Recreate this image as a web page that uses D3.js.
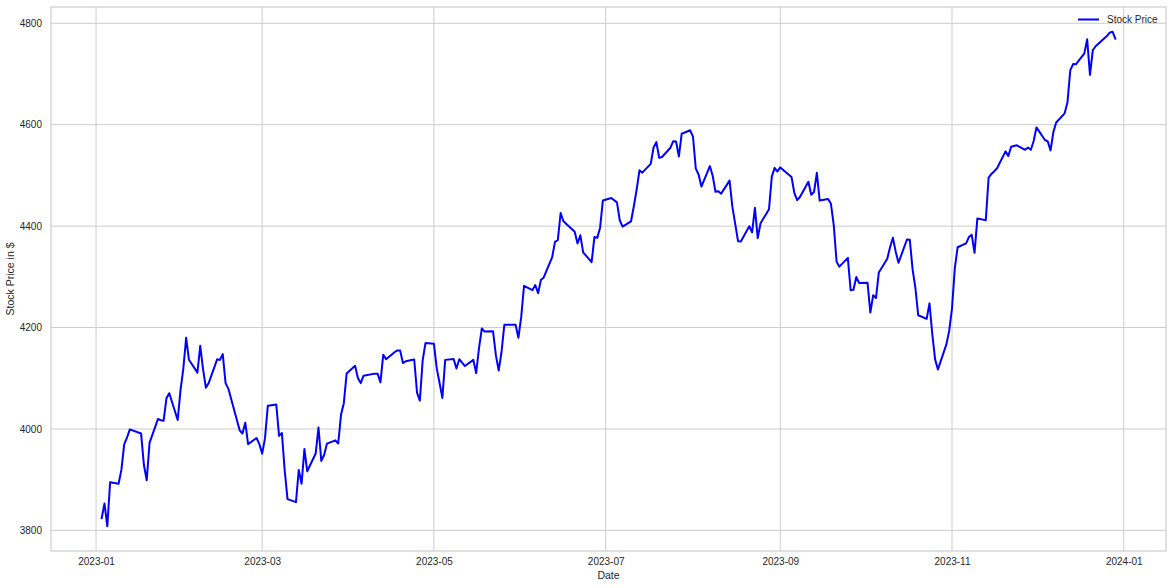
<!DOCTYPE html>
<html><head><meta charset="utf-8">
<script src="https://cdn.jsdelivr.net/npm/d3@7"></script>
<style>html,body{margin:0;padding:0;background:#fff;}svg{display:block;font-family:"Liberation Sans",Arial,sans-serif;}</style>
</head><body><svg id="c" width="1173" height="588"></svg>
<script>
const dates = ["2023-01-03","2023-01-04","2023-01-05","2023-01-06","2023-01-09","2023-01-10","2023-01-11","2023-01-12","2023-01-13","2023-01-17","2023-01-18","2023-01-19","2023-01-20","2023-01-23","2023-01-24","2023-01-25","2023-01-26","2023-01-27","2023-01-30","2023-01-31",
"2023-02-01","2023-02-02","2023-02-03","2023-02-06","2023-02-07","2023-02-08","2023-02-09","2023-02-10","2023-02-13","2023-02-14","2023-02-15","2023-02-16","2023-02-17","2023-02-21","2023-02-22","2023-02-23","2023-02-24","2023-02-27","2023-02-28",
"2023-03-01","2023-03-02","2023-03-03","2023-03-06","2023-03-07","2023-03-08","2023-03-09","2023-03-10","2023-03-13","2023-03-14","2023-03-15","2023-03-16","2023-03-17","2023-03-20","2023-03-21","2023-03-22","2023-03-23","2023-03-24","2023-03-27","2023-03-28","2023-03-29","2023-03-30","2023-03-31",
"2023-04-03","2023-04-04","2023-04-05","2023-04-06","2023-04-10","2023-04-11","2023-04-12","2023-04-13","2023-04-14","2023-04-17","2023-04-18","2023-04-19","2023-04-20","2023-04-21","2023-04-24","2023-04-25","2023-04-26","2023-04-27","2023-04-28",
"2023-05-01","2023-05-02","2023-05-03","2023-05-04","2023-05-05","2023-05-08","2023-05-09","2023-05-10","2023-05-11","2023-05-12","2023-05-15","2023-05-16","2023-05-17","2023-05-18","2023-05-19","2023-05-22","2023-05-23","2023-05-24","2023-05-25","2023-05-26","2023-05-30","2023-05-31",
"2023-06-01","2023-06-02","2023-06-05","2023-06-06","2023-06-07","2023-06-08","2023-06-09","2023-06-12","2023-06-13","2023-06-14","2023-06-15","2023-06-16","2023-06-20","2023-06-21","2023-06-22","2023-06-23","2023-06-26","2023-06-27","2023-06-28","2023-06-29","2023-06-30",
"2023-07-03","2023-07-05","2023-07-06","2023-07-07","2023-07-10","2023-07-11","2023-07-12","2023-07-13","2023-07-14","2023-07-17","2023-07-18","2023-07-19","2023-07-20","2023-07-21","2023-07-24","2023-07-25","2023-07-26","2023-07-27","2023-07-28","2023-07-31",
"2023-08-01","2023-08-02","2023-08-03","2023-08-04","2023-08-07","2023-08-08","2023-08-09","2023-08-10","2023-08-11","2023-08-14","2023-08-15","2023-08-16","2023-08-17","2023-08-18","2023-08-21","2023-08-22","2023-08-23","2023-08-24","2023-08-25","2023-08-28","2023-08-29","2023-08-30","2023-08-31",
"2023-09-01","2023-09-05","2023-09-06","2023-09-07","2023-09-08","2023-09-11","2023-09-12","2023-09-13","2023-09-14","2023-09-15","2023-09-18","2023-09-19","2023-09-20","2023-09-21","2023-09-22","2023-09-25","2023-09-26","2023-09-27","2023-09-28","2023-09-29",
"2023-10-02","2023-10-03","2023-10-04","2023-10-05","2023-10-06","2023-10-09","2023-10-10","2023-10-11","2023-10-12","2023-10-13","2023-10-16","2023-10-17","2023-10-18","2023-10-19","2023-10-20","2023-10-23","2023-10-24","2023-10-25","2023-10-26","2023-10-27","2023-10-30","2023-10-31",
"2023-11-01","2023-11-02","2023-11-03","2023-11-06","2023-11-07","2023-11-08","2023-11-09","2023-11-10","2023-11-13","2023-11-14","2023-11-15","2023-11-16","2023-11-17","2023-11-20","2023-11-21","2023-11-22","2023-11-24","2023-11-27","2023-11-28","2023-11-29","2023-11-30",
"2023-12-01","2023-12-04","2023-12-05","2023-12-06","2023-12-07","2023-12-08","2023-12-11","2023-12-12","2023-12-13","2023-12-14","2023-12-15","2023-12-18","2023-12-19","2023-12-20","2023-12-21","2023-12-22","2023-12-26","2023-12-27","2023-12-28","2023-12-29"];
const prices = [3824.14,3852.97,3808.10,3895.08,3892.09,3919.25,3969.61,3983.17,3999.09,3990.97,3928.86,3898.85,3972.61,4019.81,4016.95,4016.22,4060.43,4070.56,4017.77,4076.60,
4119.21,4179.76,4136.48,4111.08,4164.00,4117.86,4081.50,4090.46,4137.29,4136.13,4147.60,4090.41,4079.09,3997.34,3991.05,4012.32,3970.04,3982.24,3970.15,
3951.39,3981.35,4045.64,4048.42,3986.37,3992.01,3918.32,3861.59,3855.76,3919.29,3891.93,3960.28,3916.64,3951.57,4002.87,3936.97,3948.72,3970.99,3977.53,3971.27,4027.81,4050.83,4109.31,
4124.51,4100.60,4090.38,4105.02,4109.11,4108.94,4091.95,4146.22,4137.64,4151.32,4154.87,4154.52,4129.79,4133.52,4137.04,4071.63,4055.99,4135.35,4169.48,
4167.87,4119.58,4090.75,4061.22,4136.25,4138.12,4119.17,4137.64,4130.62,4124.08,4136.28,4109.90,4158.77,4198.05,4191.98,4192.63,4145.58,4115.24,4151.28,4205.45,4205.52,4179.83,
4221.02,4282.37,4273.79,4283.85,4267.52,4293.93,4298.86,4338.93,4369.01,4372.59,4425.84,4409.59,4388.71,4365.69,4381.89,4348.33,4328.82,4378.41,4376.86,4396.44,4450.38,
4455.59,4446.82,4411.59,4398.95,4409.53,4439.26,4472.16,4510.04,4505.42,4522.79,4554.98,4565.72,4534.87,4536.34,4554.64,4567.46,4566.75,4537.41,4582.23,4588.96,
4576.73,4513.39,4501.89,4478.03,4518.44,4499.38,4467.71,4468.83,4464.05,4489.72,4437.86,4404.33,4370.36,4369.71,4399.77,4387.55,4436.01,4376.31,4405.71,4433.31,4497.63,4514.87,4507.66,
4515.77,4496.83,4465.48,4451.14,4457.49,4487.46,4461.90,4467.44,4505.10,4450.32,4453.53,4443.95,4402.20,4330.00,4320.06,4337.44,4273.53,4274.51,4299.70,4288.05,
4288.39,4229.45,4263.75,4258.19,4308.50,4335.66,4358.24,4376.95,4349.61,4327.78,4373.63,4373.20,4314.60,4278.00,4224.16,4217.04,4247.68,4186.77,4137.23,4117.37,4166.82,4193.80,
4237.86,4317.78,4358.34,4365.98,4378.38,4382.78,4347.35,4415.24,4411.55,4495.70,4502.88,4508.24,4514.02,4547.38,4538.19,4556.62,4559.34,4550.43,4554.89,4550.58,4567.80,
4594.63,4569.78,4567.18,4549.34,4585.59,4604.37,4622.44,4643.70,4707.09,4719.55,4719.19,4740.56,4768.37,4698.35,4746.75,4754.63,4774.75,4781.58,4783.35,4769.83];
const yTicks = [3800,4000,4200,4400,4600,4800];
const xTicks = ["2023-01-01","2023-03-01","2023-05-01","2023-07-01","2023-09-01","2023-11-01","2024-01-01"];
const seriesName = "Stock Price";

const parse = d3.utcParse("%Y-%m-%d");
const data = dates.map((d,i)=>({date:parse(d), v:prices[i]}));
const W=1173,H=588;
const m={l:51,r:7,t:7,b:37};
const svg=d3.select("#c");
const gridColor="#cccccc", textColor="#262626";

const xe=d3.extent(data,d=>+d.date), xs=xe[1]-xe[0];
const ye=d3.extent(data,d=>d.v), ys=ye[1]-ye[0];
const x=d3.scaleUtc().domain([new Date(xe[0]-0.05*xs), new Date(xe[1]+0.05*xs)]).range([m.l,W-m.r]);
const y=d3.scaleLinear().domain([ye[0]-0.05*ys, ye[1]+0.05*ys]).range([H-m.b,m.t]);

const g=svg.append("g");
g.selectAll(".gx").data(xTicks).join("line")
 .attr("x1",d=>x(parse(d))).attr("x2",d=>x(parse(d))).attr("y1",m.t).attr("y2",H-m.b)
 .attr("stroke",gridColor).attr("stroke-width",1);
g.selectAll(".gy").data(yTicks).join("line")
 .attr("y1",d=>y(d)).attr("y2",d=>y(d)).attr("x1",m.l).attr("x2",W-m.r)
 .attr("stroke",gridColor).attr("stroke-width",1);
svg.append("rect").attr("x",m.l).attr("y",m.t).attr("width",W-m.l-m.r).attr("height",H-m.t-m.b)
 .attr("fill","none").attr("stroke",gridColor).attr("stroke-width",1.2);

const xAxis=d3.axisBottom(x).tickValues(xTicks.map(parse)).tickFormat(d3.utcFormat("%Y-%m")).tickSize(0).tickPadding(7);
const ax=svg.append("g").attr("transform",`translate(0,${H-m.b})`).call(xAxis);
ax.select(".domain").remove();
ax.selectAll("text").attr("fill",textColor).style("font-size","10px").style("font-family","'Liberation Sans',Arial,sans-serif");
const yAxis=d3.axisLeft(y).tickValues(yTicks).tickFormat(d3.format("d")).tickSize(0).tickPadding(9);
const ay=svg.append("g").attr("transform",`translate(${m.l},0)`).call(yAxis);
ay.select(".domain").remove();
ay.selectAll("text").attr("fill",textColor).style("font-size","10px").style("font-family","'Liberation Sans',Arial,sans-serif");

svg.append("path").datum(data).attr("fill","none").attr("stroke","#0000ff").attr("stroke-width",2)
 .attr("stroke-linejoin","round").attr("stroke-linecap","square")
 .attr("d",d3.line().x(d=>x(d.date)).y(d=>y(d.v)));

svg.append("text").attr("x",(m.l+W-m.r)/2).attr("y",579).attr("text-anchor","middle")
 .attr("fill",textColor).style("font-size","10.5px").text("Date");
svg.append("text").attr("transform",`translate(14,${(m.t+H-m.b)/2}) rotate(-90)`).attr("text-anchor","middle")
 .attr("fill",textColor).style("font-size","10.5px").text("Stock Price in $");

const lg=svg.append("g");
lg.append("line").attr("x1",1078).attr("x2",1099).attr("y1",19.5).attr("y2",19.5).attr("stroke","#0000ff").attr("stroke-width",2);
lg.append("text").attr("x",1107).attr("y",23).attr("fill",textColor).style("font-size","10px").text(seriesName);
</script></body></html>
